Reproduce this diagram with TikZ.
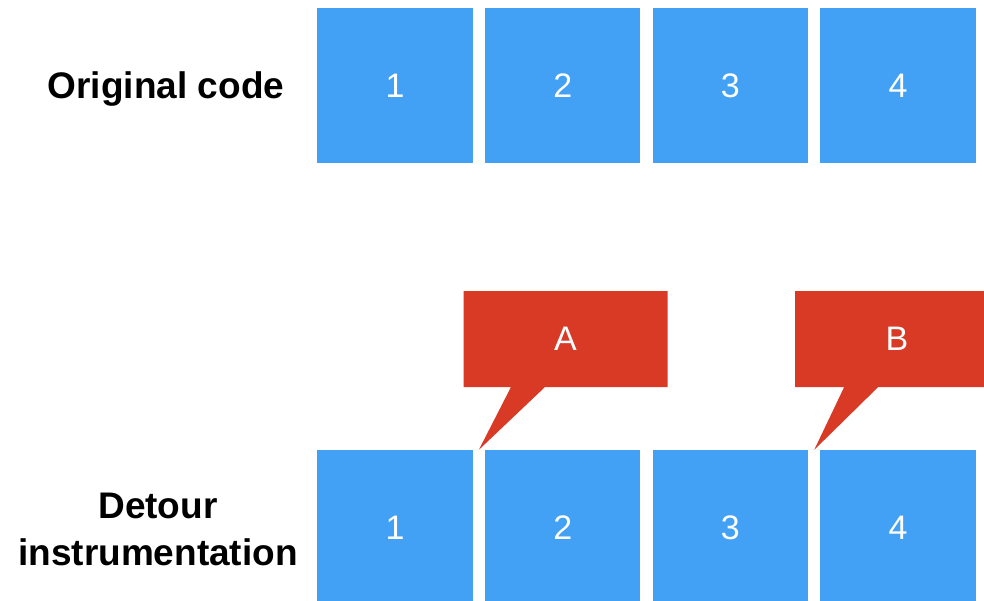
\documentclass[tikz,border=0pt]{standalone}
\usepackage{fontspec}
\setmainfont{Liberation Sans}
\usepackage{xcolor}
\usetikzlibrary{positioning,shapes.callouts,calc}

\definecolor{blockblue}{HTML}{42A0F5}
\definecolor{probered}{HTML}{D93A26}

\begin{document}
\begin{tikzpicture}[x=1pt, y=-1pt,
        block/.style={
            fill=blockblue,
            minimum width=155.5pt,
            minimum height=155pt,
            inner sep=0pt,
            text=white,
            font=\fontsize{34}{40}\selectfont
        },
        probe/.style={
            rectangle callout,
            fill=probered,
            minimum width=204pt,
            minimum height=96pt,
            inner sep=0pt,
            callout pointer width=34pt,
            text=white,
            font=\fontsize{34}{40}\selectfont
        },
        rowlabel/.style={
            align=center,
            inner sep=0pt,
            font=\fontsize{37}{47}\selectfont\bfseries
        }
    ]
        \clip (0,0) rectangle (984,600);
        \fill[white] (0,0) rectangle (984,600);

        % untouched code
        \node[rowlabel, anchor=base] (origlabel) at (166,98) {Original code};
        \node[block] (orig1) at (395,85.5) {1};
        \node[block, right=11.8pt of orig1] (orig2) {2};
        \node[block, right=11.8pt of orig2] (orig3) {3};
        \node[block, right=11.8pt of orig3] (orig4) {4};

        % same code with detours in between
        \node[rowlabel, anchor=base] (detlabel) at (158,565) {Detour\\instrumentation};
        \node[block] (det1) at (395,527.5) {1};
        \node[block, right=11.8pt of det1] (det2) {2};
        \node[block, right=11.8pt of det2] (det3) {3};
        \node[block, right=11.8pt of det3] (det4) {4};

        \coordinate (tipA) at ($(det1.north east)!0.5!(det2.north west)$);
        \coordinate (tipB) at ($(det3.north east)!0.5!(det4.north west)$);

        \node[probe, callout absolute pointer={(tipA)}] (probeA) at (565.5,339) {A};
        \node[probe, callout absolute pointer={(tipB)}] (probeB) at (897,339) {B};
    \end{tikzpicture}
\end{document}
